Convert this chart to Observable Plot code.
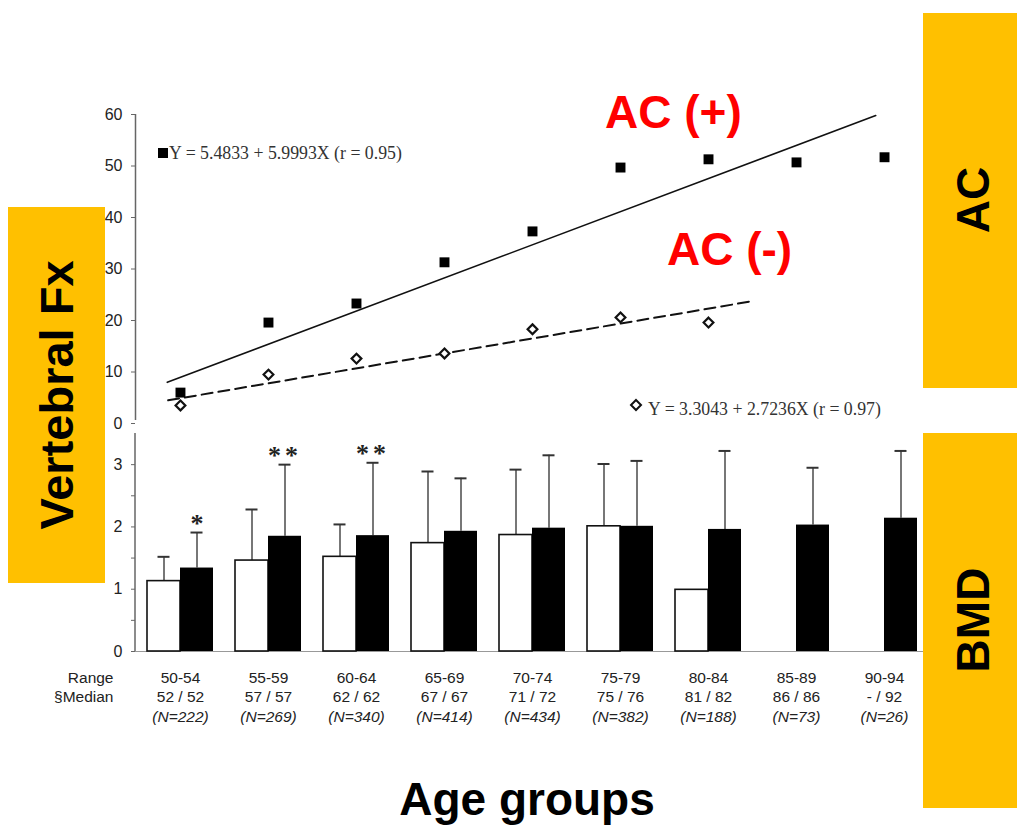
<!DOCTYPE html>
<html>
<head>
<meta charset="utf-8">
<script src="https://cdn.jsdelivr.net/npm/d3@7"></script>
<script src="https://cdn.jsdelivr.net/npm/@observablehq/plot@0.6"></script>
<style>
  body { margin: 0; background: #fff; }
  #wrap { position: relative; width: 1017px; height: 837px; background: #fff; overflow: hidden; }
  #topPanel, #botPanel { position: absolute; left: 0; }
  #topPanel { top: 0; }
  #botPanel { top: 420px; }
  #ann { position: absolute; left: 0; top: 0; pointer-events: none; }
</style>
</head>
<body>
<div id="wrap">
  <div id="topPanel"></div>
  <div id="botPanel"></div>
  <svg id="ann" width="1017" height="837"></svg>
</div>
<script>
// ---------- data ----------
const groups = ["50-54","55-59","60-64","65-69","70-74","75-79","80-84","85-89","90-94"];
const medians = ["52 / 52","57 / 57","62 / 62","67 / 67","71 / 72","75 / 76","81 / 82","86 / 86","- / 92"];
const counts = ["(N=222)","(N=269)","(N=340)","(N=414)","(N=434)","(N=382)","(N=188)","(N=73)","(N=26)"];
const rowLabels = ["Range", "§Median"];

// Vertebral fracture (%) — AC(+) squares, AC(-) diamonds
const fxPos = [6.0, 19.6, 23.3, 31.3, 37.3, 49.7, 51.3, 50.7, 51.7];
const fxNeg = [3.5, 9.5, 12.6, 13.6, 18.3, 20.6, 19.6, null, null];
// fitted lines as drawn (group index, value)
const fitPosX = [0.85, 8.9];
const fitPosY = [8.0, 59.8];
const fitNegX = [0.86, 7.48];
const fitNegY = [4.5, 23.7];
const eqPos = "Y = 5.4833 + 5.9993X (r = 0.95)";
const eqNeg = "Y = 3.3043 + 2.7236X (r = 0.97)";

// BMD bars: AC(-) white, AC(+) black, with upper error bar ends
const bmdNeg    = [1.13, 1.46, 1.52, 1.74, 1.87, 2.01, 0.99, null, null];
const bmdNegErr = [1.52, 2.28, 2.04, 2.89, 2.92, 3.01, null, null, null];
const bmdPos    = [1.34, 1.85, 1.86, 1.93, 1.98, 2.01, 1.96, 2.03, 2.14];
const bmdPosErr = [1.91, 3.00, 3.03, 2.78, 3.15, 3.06, 3.22, 2.95, 3.22];
const signif    = ["*", "**", "**", "", "", "", "", "", ""];

const yTicksTop = [0, 10, 20, 30, 40, 50, 60];
const yTicksBot = [0, 0.5, 1, 1.5, 2, 2.5, 3];

// ---------- tables ----------
const pts = groups.map((g, i) => ({i: i + 1, pos: fxPos[i], neg: fxNeg[i]}));
const fitPos = fitPosX.map((x, k) => ({x, y: fitPosY[k]}));
const fitNeg = fitNegX.map((x, k) => ({x, y: fitNegY[k]}));
const rows = groups.map((g, i) => ({
  group: g, median: medians[i], n: counts[i],
  neg: bmdNeg[i], negErr: bmdNegErr[i], pos: bmdPos[i], posErr: bmdPosErr[i], sig: signif[i]
}));

const baseStyle = {fontFamily: "'Liberation Sans', Arial, sans-serif", fontSize: "15.5px", color: "#333", background: "transparent", overflow: "visible"};

// ---------- top panel ----------
const topChart = Plot.plot({
  width: 1017, height: 440,
  marginTop: 114, marginBottom: 17, marginLeft: 135, marginRight: 88,
  style: baseStyle,
  x: {type: "linear", domain: [0.489, 9.511], axis: null},
  y: {domain: [0, 60], axis: null},
  marks: [
    Plot.ruleX([0.489], {y1: 0.6, y2: 60, stroke: "#666", strokeWidth: 1.5}),
    Plot.axisY({ticks: yTicksTop, tickSize: 4, tickPadding: 9, stroke: "#666", fill: "#222", fontSize: 16, label: null}),
    Plot.line(fitPos, {x: "x", y: "y", stroke: "#111", strokeWidth: 1.6}),
    Plot.line(fitNeg, {x: "x", y: "y", stroke: "#111", strokeWidth: 2, strokeDasharray: "11,6"}),
    Plot.dot(pts.filter(d => d.neg != null), {x: "i", y: "neg", symbol: "diamond2", r: 4.4, fill: "white", stroke: "#111", strokeWidth: 2.2}),
    Plot.dot(pts, {x: "i", y: "pos", symbol: "square", r: 5.6, fill: "#000", stroke: "none"})
  ]
});
document.getElementById("topPanel").append(topChart);

// ---------- bottom panel ----------
const yAxisLine = (index, scales, values, dimensions) => {
  const {marginLeft} = dimensions;
  return d3.create("svg:line")
    .attr("x1", marginLeft).attr("x2", marginLeft)
    .attr("y1", scales.y(0)).attr("y2", scales.y(3.5))
    .attr("stroke", "#666").attr("stroke-width", 1.5).node();
};

const botChart = Plot.plot({
  width: 1017, height: 320,
  marginTop: 13, marginBottom: 89, marginLeft: 135, marginRight: 88,
  style: baseStyle,
  x: {type: "band", domain: groups, paddingInner: 0.25, paddingOuter: 0.136, axis: null},
  y: {domain: [0, 3.5], axis: null},
  marks: [
    Plot.ruleY([0], {stroke: "#999", strokeWidth: 1}),
    yAxisLine,
    Plot.axisY({ticks: yTicksBot, tickFormat: d => Number.isInteger(d) ? d : "", tickSize: 4, tickPadding: 9, stroke: "#666", fill: "#222", fontSize: 16, label: null}),
    // error bars
    Plot.ruleX(rows.filter(d => d.negErr != null), {x: "group", y1: "neg", y2: "negErr", dx: -16.5, stroke: "#555", strokeWidth: 1.6}),
    Plot.tickY(rows.filter(d => d.negErr != null), {x: "group", y: "negErr", insetLeft: 10.5, insetRight: 43.5, stroke: "#333", strokeWidth: 2}),
    Plot.ruleX(rows, {x: "group", y1: "pos", y2: "posErr", dx: 16.5, stroke: "#555", strokeWidth: 1.6}),
    Plot.tickY(rows, {x: "group", y: "posErr", insetLeft: 43.5, insetRight: 10.5, stroke: "#333", strokeWidth: 2}),
    // bars
    Plot.barY(rows.filter(d => d.neg != null), {x: "group", y: "neg", fill: "white", stroke: "#111", strokeWidth: 1.6, insetRight: 33}),
    Plot.barY(rows, {x: "group", y: "pos", fill: "#000", insetLeft: 33}),
    // significance
    Plot.text(rows.filter(d => d.sig), {x: "group", y: "posErr", text: "sig", dx: 16.5, dy: -9, fontFamily: "'Liberation Serif', 'Times New Roman', serif", fontSize: 26, fontWeight: "bold", fill: "#222"}),
    // category labels
    Plot.text(rows, {x: "group", text: "group", frameAnchor: "bottom", dy: 27, lineAnchor: "middle", fill: "#222"}),
    Plot.text(rows, {x: "group", text: "median", frameAnchor: "bottom", dy: 46, lineAnchor: "middle", fill: "#222"}),
    Plot.text(rows, {x: "group", text: "n", frameAnchor: "bottom", dy: 66, lineAnchor: "middle", fontStyle: "italic", fill: "#222"}),
    Plot.text([rowLabels[0]], {frameAnchor: "bottom-left", text: d => d, textAnchor: "end", dx: -22, dy: 27, lineAnchor: "middle", fill: "#222"}),
    Plot.text([rowLabels[1]], {frameAnchor: "bottom-left", text: d => d, textAnchor: "end", dx: -22, dy: 46, lineAnchor: "middle", fill: "#222"})
  ]
});
d3.select(botChart).selectAll("text").filter(function() { return this.textContent === "**"; }).attr("letter-spacing", "4px");
document.getElementById("botPanel").append(botChart);

// ---------- annotations ----------
const ann = d3.select("#ann");
const orange = "#FFC000";
const bold = "'Liberation Sans', Arial, sans-serif";
ann.append("rect").attr("x", 8).attr("y", 207).attr("width", 97).attr("height", 376).attr("fill", orange);
ann.append("rect").attr("x", 923).attr("y", 13).attr("width", 100).attr("height", 375).attr("fill", orange);
ann.append("rect").attr("x", 923).attr("y", 433).attr("width", 100).attr("height", 375).attr("fill", orange);

function rotText(x, y, txt, size) {
  ann.append("text").attr("transform", `translate(${x},${y}) rotate(-90)`)
    .attr("text-anchor", "middle").attr("font-family", bold).attr("font-weight", "bold")
    .attr("font-size", size).attr("fill", "#000").text(txt);
}
rotText(73, 395, "Vertebral Fx", 47);
rotText(989, 200, "AC", 46);
rotText(989, 620, "BMD", 46);

ann.append("text").attr("x", 605).attr("y", 128).attr("font-family", bold).attr("font-weight", "bold")
  .attr("font-size", 46).attr("fill", "#FF0000").text("AC (+)");
ann.append("text").attr("x", 667).attr("y", 265).attr("font-family", bold).attr("font-weight", "bold")
  .attr("font-size", 46).attr("fill", "#FF0000").text("AC (-)");
ann.append("text").attr("x", 527).attr("y", 815).attr("text-anchor", "middle").attr("font-family", bold).attr("font-weight", "bold")
  .attr("font-size", 46).attr("fill", "#000").text("Age groups");

// equation legends
const serif = "'Liberation Serif', 'Times New Roman', serif";
ann.append("rect").attr("x", 158).attr("y", 148).attr("width", 10).attr("height", 10).attr("fill", "#000");
ann.append("text").attr("x", 169).attr("y", 159).attr("font-family", serif).attr("font-size", 17.8).attr("fill", "#333").text(eqPos);
ann.append("path").attr("d", "M636,400L641,405L636,410L631,405Z").attr("fill", "white").attr("stroke", "#111").attr("stroke-width", 2);
ann.append("text").attr("x", 648).attr("y", 415).attr("font-family", serif).attr("font-size", 17.8).attr("fill", "#333").text(eqNeg);
</script>
</body>
</html>
